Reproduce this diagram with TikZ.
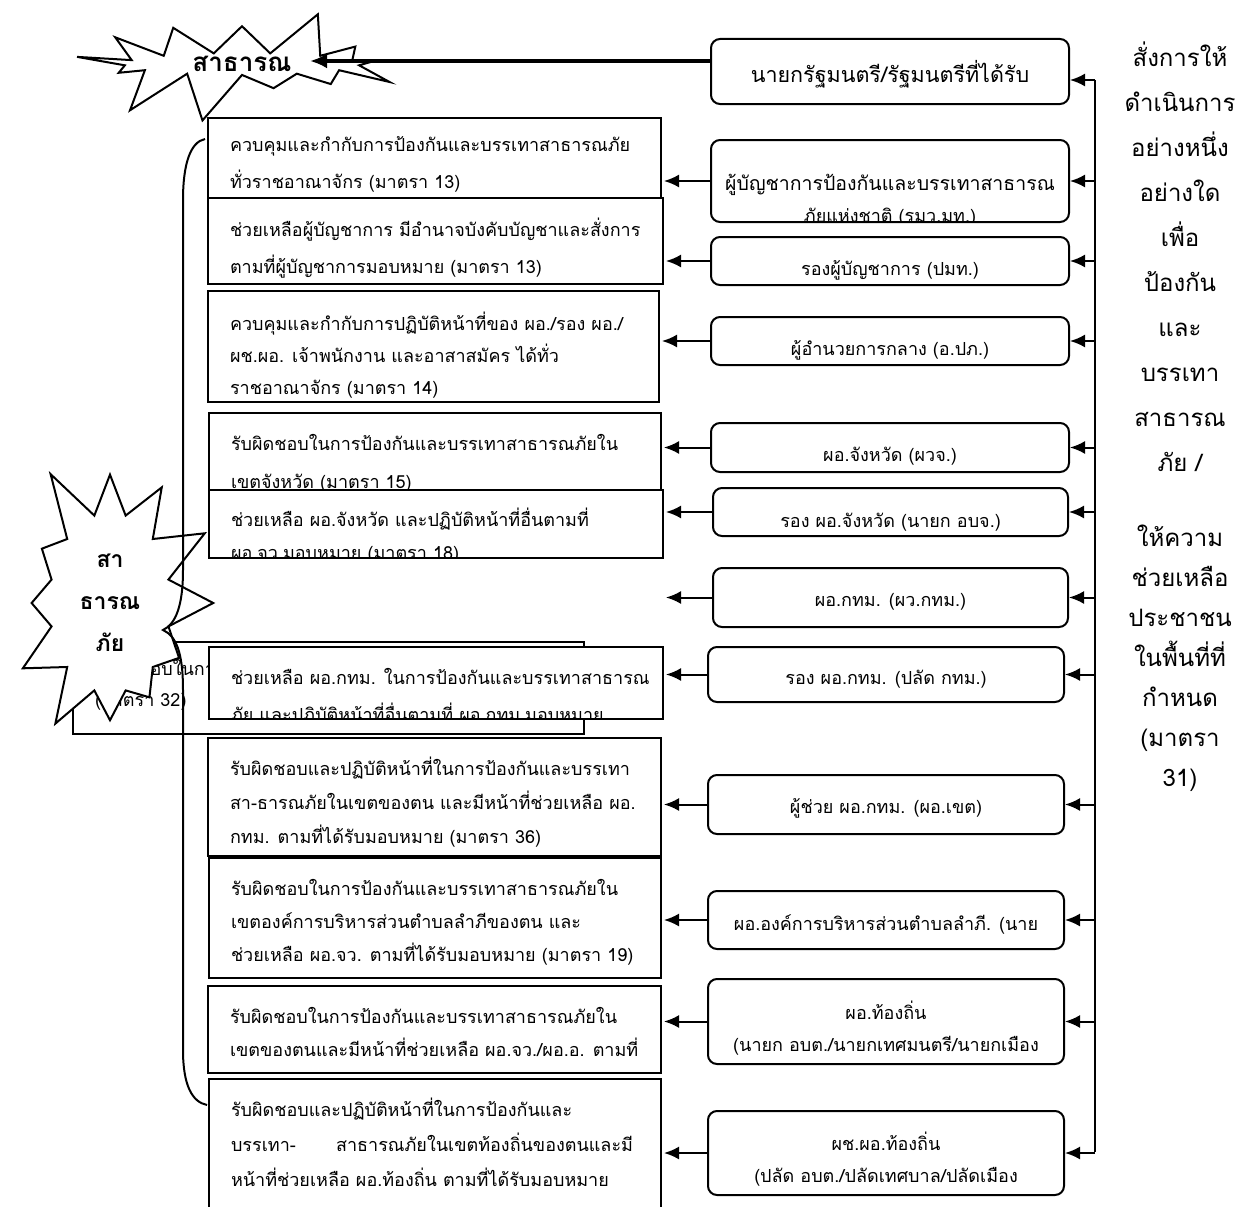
\documentclass[tikz,border=0pt]{standalone}
\usepackage{fontspec}
\setmainfont[Script=Thai]{Loma}
\usetikzlibrary{arrows.meta,shapes.symbols}

\tikzset{
  duty/.style={draw, line width=2pt, fill=white, anchor=north west, inner sep=0pt},
  role/.style={duty, rounded corners=9pt},
  dutytext/.style={anchor=base west, align=left, inner sep=0pt, sharp corners,
    minimum width=0pt, minimum height=0pt, font=\fontsize{18}{#1}\selectfont},
  roletext/.style={anchor=base, align=center, inner sep=0pt, sharp corners,
    minimum width=0pt, minimum height=0pt, font=\fontsize{18}{32}\selectfont},
  burst/.style={starburst, draw, line width=2pt, fill=white, inner sep=0pt,
    align=center, font=\bfseries},
  note/.style={anchor=base, align=center, inner sep=0pt, font=\fontsize{24}{40}\selectfont},
  link/.style={line width=2pt, -{Latex[length=15pt,width=13pt]}, shorten >=2pt},
  biglink/.style={line width=3.5pt, -{Latex[length=17pt,width=15pt]}},
}

% name, x, y, width, height, last baseline, line skip, text
\newcommand\dutybox[8]{%
  \node[duty, minimum width=#4pt, minimum height=#5pt,
    path picture={\node[dutytext=#7] at ([xshift=21pt,yshift=-#6pt]path picture bounding box.north west) {#8};}]
    (#1) at (#2,#3) {};}

% name, x, y, width, height, last baseline, text
\newcommand\rolebox[7]{%
  \node[role, minimum width=#4pt, minimum height=#5pt,
    path picture={\node[roletext] at ([yshift=-#6pt]path picture bounding box.north) {#7};}]
    (#1) at (#2,#3) {};}

\begin{document}
\begin{tikzpicture}[x=1pt, y=-1pt]
  \path[fill=white, use as bounding box] (0,0) rectangle (1248,1207);

  \node[burst, minimum width=340pt, minimum height=122pt, starburst points=13,
    starburst point height=52pt, random starburst=12, font=\fontsize{26}{30}\selectfont\bfseries]
    (burstTop) at (242,64) {สาธารณ};

  \rolebox{R1}{710}{38}{358}{65}{44}{\fontsize{21.5}{32}\selectfont นายกรัฐมนตรี/รัฐมนตรีที่ได้รับ}
  \rolebox{R2}{710}{139}{358}{82}{82}{\fontsize{19.5}{31}\selectfont ผู้บัญชาการป้องกันและบรรเทาสาธารณ\\ภัยแห่งชาติ (รมว.มท.)}
  \rolebox{R3}{710}{236}{358}{48}{38}{รองผู้บัญชาการ (ปมท.)}
  \rolebox{R4}{710}{316}{358}{48}{38}{ผู้อำนวยการกลาง (อ.ปภ.)}
  \rolebox{R5}{710}{422}{358}{49}{38}{ผอ.จังหวัด (ผวจ.)}
  \rolebox{R6}{712}{487}{355}{48}{39}{รอง ผอ.จังหวัด (นายก อบจ.)}
  \rolebox{R7}{712}{567}{355}{59}{38}{ผอ.กทม. (ผว.กทม.)}
  \rolebox{R8}{707}{646}{356}{55}{37}{รอง ผอ.กทม. (ปลัด กทม.)}
  \rolebox{R9}{707}{774}{356}{59}{38}{ผู้ช่วย ผอ.กทม. (ผอ.เขต)}
  \rolebox{R10}{707}{890}{356}{58}{39}{ผอ.องค์การบริหารส่วนตำบลลำภี. (นาย}
  \rolebox{R11}{707}{978}{356}{85}{72}{ผอ.ท้องถิ่น\\(นายก อบต./นายกเทศมนตรี/นายกเมือง}
  \rolebox{R12}{707}{1110}{356}{84}{71}{ผช.ผอ.ท้องถิ่น\\(ปลัด อบต./ปลัดเทศบาล/ปลัดเมือง}

  \dutybox{L1}{207}{117}{453}{88}{70}{37}{ควบคุมและกำกับการป้องกันและบรรเทาสาธารณภัย\\ทั่วราชอาณาจักร (มาตรา 13)}
  \dutybox{L2}{207}{197}{455}{86}{75}{37}{ช่วยเหลือผู้บัญชาการ มีอำนาจบังคับบัญชาและสั่งการ\\ตามที่ผู้บัญชาการมอบหมาย (มาตรา 13)}
  \dutybox{L3}{207}{290}{451}{111}{103}{32}{ควบคุมและกำกับการปฏิบัติหน้าที่ของ ผอ./รอง ผอ./\\ผช.ผอ. เจ้าพนักงาน และอาสาสมัคร ได้ทั่ว\\ราชอาณาจักร (มาตรา 14)}
  \dutybox{L4}{208}{412}{452}{90}{75}{38}{รับผิดชอบในการป้องกันและบรรเทาสาธารณภัยใน\\เขตจังหวัด (มาตรา 15)}
  \dutybox{L5}{208}{489}{454}{68}{69}{33}{ช่วยเหลือ ผอ.จังหวัด และปฏิบัติหน้าที่อื่นตามที่\\ผอ.จว.มอบหมาย (มาตรา 18)}
  \dutybox{Lh}{72}{641}{511}{92}{64}{31}{รับผิดชอบในการ\\(มาตรา 32)}

  \node[burst, minimum width=245pt, minimum height=305pt, starburst points=12,
    starburst point height=62pt, random starburst=5, font=\fontsize{23}{42}\selectfont\bfseries]
    (burstLeft) at (110,603) {สา\\ธารณ\\ภัย};

  \dutybox{L6}{208}{646}{454}{72}{74}{37}{ช่วยเหลือ ผอ.กทม. ในการป้องกันและบรรเทาสาธารณ\\ภัย และปฏิบัติหน้าที่อื่นตามที่ ผอ.กทม.มอบหมาย}
  \dutybox{L7}{207}{737}{453}{118}{105}{34}{รับผิดชอบและปฏิบัติหน้าที่ในการป้องกันและบรรเทา\\สา-ธารณภัยในเขตของตน และมีหน้าที่ช่วยเหลือ ผอ.\\กทม. ตามที่ได้รับมอบหมาย (มาตรา 36)}
  \dutybox{L8}{208}{857}{452}{120}{103}{33}{รับผิดชอบในการป้องกันและบรรเทาสาธารณภัยใน\\เขตองค์การบริหารส่วนตำบลลำภีของตน และ\\ช่วยเหลือ ผอ.จว. ตามที่ได้รับมอบหมาย (มาตรา 19)}
  \dutybox{L9}{207}{985}{453}{87}{70}{33}{รับผิดชอบในการป้องกันและบรรเทาสาธารณภัยใน\\เขตของตนและมีหน้าที่ช่วยเหลือ ผอ.จว./ผอ.อ. ตามที่}
  \dutybox{L10}{208}{1078}{452}{150}{107}{35}{รับผิดชอบและปฏิบัติหน้าที่ในการป้องกันและ\\\hbox to 402pt{บรรเทา-\hfill สาธารณภัยในเขตท้องถิ่นของตนและมี}\\หน้าที่ช่วยเหลือ ผอ.ท้องถิ่น ตามที่ได้รับมอบหมาย}

  \node[note] (order) at (1180,786) {สั่งการให้\\[5pt]ดำเนินการ\\[5pt]อย่างหนึ่ง\\[5pt]อย่างใด\\[5pt]เพื่อ\\[5pt]ป้องกัน\\[5pt]และ\\[5pt]บรรเทา\\[5pt]สาธารณ\\[5pt]ภัย /\\[35pt]ให้ความ\\ช่วยเหลือ\\ประชาชน\\ในพื้นที่ที่\\กำหนด\\(มาตรา\\31)};

  \coordinate (tipTop) at (310,61);
  \draw[biglink] (R1.west |- tipTop) -- (tipTop);

  \coordinate (busTop) at (1095,80);
  \coordinate (busEnd) at (1095,1152);
  \draw[line width=2pt] (busTop) -- (busEnd);
  \draw[link, shorten >=0pt] (busTop) -- (busTop -| R1.east);
  \foreach \r in {R2,R3,R4,R5,R6,R7,R8,R9,R10,R11,R12}
    \draw[link, shorten >=0pt] (\r.east -| busTop) -- (\r.east);

  \foreach \r/\l in {R2/L1,R3/L2,R4/L3,R5/L4,R6/L5,R7/L5,R8/L6,R9/L7,R10/L8,R11/L9,R12/L10}
    \draw[link] (\r.west) -- (\r.west -| \l.east);

  \draw[line width=2pt] (205,139) .. controls (190,142) and (183,165) .. (183,200)
    -- (183,570) .. controls (183,605) and (176,624) .. (163,630)
    .. controls (176,636) and (183,652) .. (183,690)
    -- (183,1050) .. controls (183,1085) and (192,1102) .. (207,1105);
\end{tikzpicture}
\end{document}
